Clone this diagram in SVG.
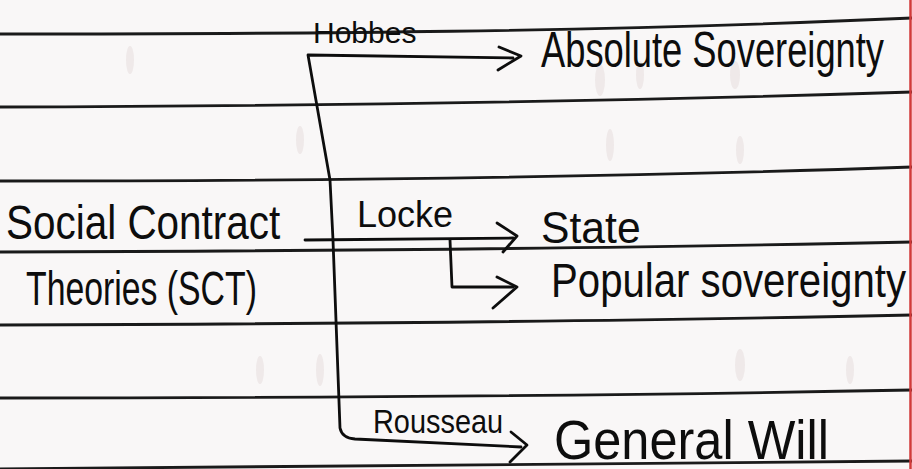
<svg xmlns="http://www.w3.org/2000/svg" width="912" height="469" viewBox="0 0 912 469">
<style>
.rule{fill:none;stroke:#1a1a1a;stroke-width:2.8}
.pen{fill:none;stroke:#0d0d0d;stroke-width:2.8;stroke-linecap:round;stroke-linejoin:round}
.txt{font-family:"Liberation Sans",Arial,sans-serif;fill:#0d0d0d}
.smudge{fill:#e6dcdc;opacity:0.5}
</style>
<rect x="0" y="0" width="912" height="469" fill="#f9f7f7"/>
<g id="paper">
<ellipse class="smudge" cx="130" cy="60" rx="4" ry="14"/>
<ellipse class="smudge" cx="600" cy="80" rx="5" ry="16"/>
<ellipse class="smudge" cx="640" cy="75" rx="4" ry="14"/>
<ellipse class="smudge" cx="735" cy="75" rx="5" ry="14"/>
<ellipse class="smudge" cx="610" cy="145" rx="4" ry="16"/>
<ellipse class="smudge" cx="740" cy="150" rx="4" ry="14"/>
<ellipse class="smudge" cx="300" cy="140" rx="4" ry="14"/>
<ellipse class="smudge" cx="260" cy="370" rx="4" ry="14"/>
<ellipse class="smudge" cx="320" cy="370" rx="4" ry="16"/>
<ellipse class="smudge" cx="740" cy="365" rx="5" ry="16"/>
<ellipse class="smudge" cx="850" cy="370" rx="4" ry="14"/>
<path class="rule" d="M0,34 C300,34 600,32 912,18"/>
<path class="rule" d="M0,107 C300,106 600,102 912,92"/>
<path class="rule" d="M0,181 C300,181 600,178 912,167"/>
<path class="rule" d="M0,252 C300,251 600,249 912,242"/>
<path class="rule" d="M0,325 C300,324 600,322 912,315"/>
<path class="rule" d="M0,398 C300,398 600,396 912,390"/>
<path class="rule" d="M0,469 C300,468 600,466 912,461"/>
<line x1="910.5" y1="0" x2="910.5" y2="469" stroke="#d23a3a" stroke-width="2.5"/>
</g>
<g id="connectors">
<path class="pen" d="M513,58 L308,55 L330,180 L333,240 L340,428 Q342,438 355,439 L521,447"/>
<path class="pen" d="M499,47 L521,56 L498,70"/>
<path class="pen" d="M305,240 L513,238"/>
<path class="pen" d="M497,223 L517,236 L503,252"/>
<path class="pen" d="M450,240 L452,287 L513,287"/>
<path class="pen" d="M497,277 L517,287 L493,308"/>
<path class="pen" d="M511,432 L527,445 L510,462"/>
</g>
<g id="node-sct">
<text class="txt" transform="translate(6,239) scale(0.843,1)" font-size="48">Social Contract</text>
<text class="txt" transform="translate(26,305) scale(0.704,1)" font-size="48">Theories (SCT)</text>
</g>
<g id="label-hobbes">
<text class="txt" x="313" y="43" font-size="30">Hobbes</text>
</g>
<g id="node-absolute">
<text class="txt" transform="translate(541,67) scale(0.726,1)" font-size="50">Absolute Sovereignty</text>
</g>
<g id="label-locke">
<text class="txt" x="357" y="227" font-size="36">Locke</text>
</g>
<g id="node-state">
<text class="txt" transform="translate(541,243) scale(0.97,1)" font-size="44">State</text>
</g>
<g id="node-popular">
<text class="txt" transform="translate(551,297) scale(0.837,1)" font-size="48">Popular sovereignty</text>
</g>
<g id="label-rousseau">
<text class="txt" transform="translate(373,433) scale(0.85,1)" font-size="34">Rousseau</text>
</g>
<g id="node-general">
<text class="txt" transform="translate(554,459) scale(0.902,1)" font-size="56">General Will</text>
</g>
</svg>
